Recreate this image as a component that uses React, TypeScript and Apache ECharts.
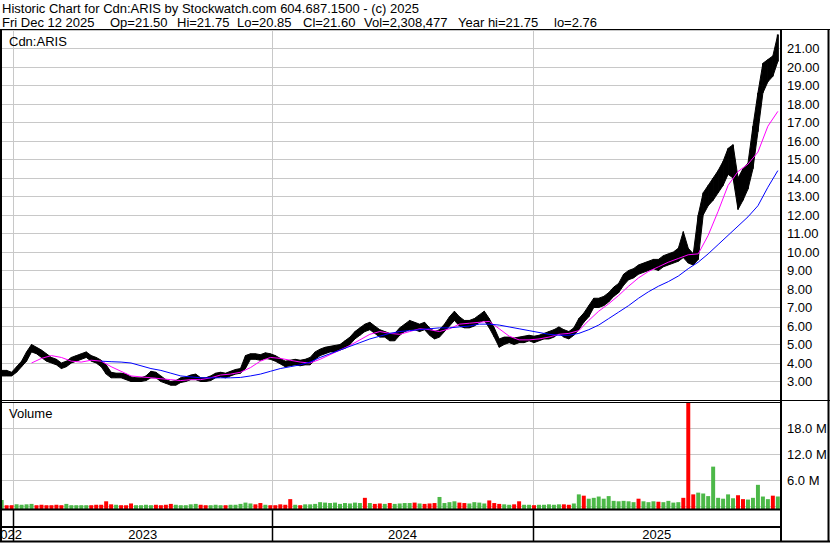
import React, { useEffect, useRef } from 'react';
import * as echarts from 'echarts';

// ---------- data (weekly, Fridays from 2022-12-16 to 2025-12-12) ----------
const FIRST_FRIDAY = Date.UTC(2022, 11, 16);
const DAY = 86400000;
const WEEK = 7 * DAY;

const priceLow = [
  3.3, 3.3, 3.3, 3.5, 3.8, 4.1, 4.6, 4.5, 4.3, 4.1,
  4.0, 3.9, 3.7, 3.8, 4.0, 4.1, 4.2, 4.3, 4.1, 4.0,
  3.8, 3.4, 3.2, 3.2, 3.2, 3.1, 3.0, 3.0, 3.0, 3.05,
  3.2, 3.2, 3.0, 2.9, 2.8, 2.8, 2.95, 3.0, 3.1, 3.1,
  3.0, 3.0, 3.05, 3.2, 3.25, 3.2, 3.3, 3.4, 3.45, 3.7,
  4.2, 4.2, 4.15, 4.25, 4.2, 4.1, 3.95, 3.8, 3.85, 3.9,
  3.85, 3.9, 3.9, 4.2, 4.4, 4.5, 4.6, 4.6, 4.7, 4.8,
  5.0, 5.3, 5.5, 5.7, 5.8, 5.6, 5.4, 5.4, 5.2, 5.2,
  5.5, 5.7, 5.8, 5.8, 5.7, 5.8, 5.5, 5.3, 5.4, 5.7,
  6.0, 6.3, 6.0, 5.9, 5.9, 6.0, 6.2, 6.3, 5.9, 5.4,
  4.85, 5.0, 5.1, 5.0, 5.1, 5.1, 5.2, 5.1, 5.2, 5.3,
  5.3, 5.4, 5.6, 5.4, 5.3, 5.5, 5.8, 6.2, 6.5, 7.0,
  7.0, 7.1, 7.3, 7.6, 7.8, 8.2, 8.5, 8.6, 8.8, 8.9,
  9.0, 9.1, 9.0, 9.2, 9.3, 9.4, 9.5, 9.7, 9.4, 9.3,
  9.6, 12.0, 12.5, 12.8, 13.2, 13.6, 14.2, 14.0, 12.3, 12.8,
  13.4, 14.5, 16.5, 18.6, 19.2, 19.5, 20.3,
];

const priceHigh = [
  3.6, 3.6, 3.5, 3.8, 4.1, 4.6, 5.0, 4.85, 4.7, 4.5,
  4.3, 4.2, 4.0, 4.1, 4.3, 4.4, 4.5, 4.6, 4.4, 4.3,
  4.15, 3.9, 3.5, 3.45, 3.45, 3.4, 3.25, 3.2, 3.2, 3.3,
  3.55, 3.5, 3.3, 3.1, 3.0, 3.05, 3.2, 3.25, 3.35, 3.4,
  3.2, 3.2, 3.3, 3.45, 3.5, 3.45, 3.55, 3.65, 3.7, 4.4,
  4.5, 4.5, 4.45, 4.55, 4.5, 4.4, 4.25, 4.1, 4.15, 4.2,
  4.15, 4.2, 4.3, 4.6, 4.75, 4.85, 4.9, 4.95, 5.0, 5.2,
  5.4, 5.7, 5.9, 6.1, 6.2, 6.0, 5.8, 5.7, 5.6, 5.6,
  5.9, 6.1, 6.3, 6.2, 6.1, 6.2, 5.9, 5.7, 5.8, 6.1,
  6.5, 6.8, 6.5, 6.3, 6.3, 6.4, 6.6, 6.8, 6.4, 5.9,
  5.3, 5.4, 5.4, 5.35, 5.4, 5.45, 5.5, 5.45, 5.5, 5.6,
  5.7, 5.8, 5.95, 5.8, 5.7, 5.9, 6.4, 6.7, 7.1, 7.5,
  7.5, 7.6, 7.8, 8.1, 8.3, 8.8, 9.0, 9.1, 9.3, 9.4,
  9.5, 9.6, 9.6, 9.8, 9.9, 10.0, 10.2, 11.1, 10.2, 9.9,
  12.0, 13.2, 13.6, 14.0, 14.4, 14.9, 15.6, 15.8, 14.0, 14.5,
  14.8, 16.8, 18.6, 20.2, 20.4, 20.6, 21.75,
];

// typical daily volume of each week, millions of shares
const volumeM = [
  1.5, 0.3, 0.3, 0.5, 0.4, 0.5, 0.6, 0.3, 0.4, 0.3,
  0.3, 0.4, 0.3, 0.6, 0.3, 0.3, 0.3, 0.3, 0.3, 0.4,
  0.4, 1.2, 0.5, 0.4, 0.3, 0.3, 0.7, 0.3, 0.3, 0.4,
  0.3, 0.4, 0.3, 0.4, 0.6, 0.4, 0.3, 0.3, 0.5, 0.6,
  0.4, 0.3, 0.3, 0.4, 0.3, 0.3, 0.4, 0.4, 0.6, 0.9,
  0.7, 0.5, 0.8, 0.4, 0.3, 0.3, 0.5, 0.4, 1.7, 0.4,
  0.3, 0.5, 0.5, 0.6, 1.0, 0.9, 0.8, 0.9, 0.6, 0.8,
  0.7, 0.9, 0.8, 2.0, 0.8, 0.6, 0.7, 0.6, 0.8, 0.6,
  0.7, 0.8, 0.8, 0.9, 0.7, 0.6, 0.7, 0.8, 2.2, 0.8,
  1.0, 1.2, 0.9, 0.8, 0.7, 1.0, 0.9, 0.7, 1.4, 0.8,
  0.6, 0.5, 0.4, 0.5, 1.2, 0.4, 0.4, 0.3, 0.4, 0.4,
  0.5, 0.4, 0.5, 0.5, 0.4, 0.7, 2.8, 2.5, 1.8, 2.0,
  2.3, 1.8, 2.4, 1.3, 1.2, 1.3, 1.2, 1.0, 1.8, 1.2,
  1.0, 1.2, 1.1, 1.0, 1.3, 0.9, 1.0, 2.0, 24.5, 2.8,
  3.2, 3.0, 2.4, 9.2, 2.0, 1.8, 2.8, 1.9, 2.6, 1.7,
  1.6, 2.0, 5.0, 2.3, 1.7, 2.5, 2.31,
];

// g = up, r = down
const volumeDirection =
  'grrggggrrr' + 'rrrgggggrr' + 'rrrgrrrggg' + 'grrrrggggg' + 'rrgggrgggg' +
  'grrgrrrrrg' + 'rggggggggg' + 'gggrgrrgrg' + 'gggrgrrrgg' + 'ggrrggggrr' +
  'rggrrggrgg' + 'gggrrggrgg' + 'ggggggggrg' + 'ggrggggrrr' + 'ggggggggrr' +
  'gggggrg';

// moving averages, read every second week
const MA_FAST_FIRST_WEEK = 6;
const maFast = [
  4.0, 4.25, 4.4, 4.3, 4.1, 4.05, 4.15, 4.1, 3.8, 3.55,
  3.3, 3.25, 3.2, 3.15, 3.1, 3.05, 3.1, 3.1, 3.2, 3.35,
  3.4, 3.5, 3.75, 4.1, 4.3, 4.25, 4.15, 4.05, 4.0, 4.2,
  4.45, 4.7, 4.95, 5.25, 5.55, 5.7, 5.6, 5.55, 5.7, 5.85,
  5.8, 5.7, 5.85, 6.1, 6.15, 6.2, 6.25, 5.85, 5.45, 5.25,
  5.25, 5.3, 5.4, 5.55, 5.6, 5.75, 6.3, 6.8, 7.2, 7.65,
  8.15, 8.6, 8.95, 9.2, 9.45, 9.65, 9.85, 9.9, 10.9, 12.2,
  13.6, 14.35, 14.75, 15.4, 16.8, 17.6,
];
const MA_SLOW_FIRST_WEEK = 20;
const maSlow = [
  4.1, 4.07, 4.05, 4.0, 3.85, 3.7, 3.6, 3.45, 3.3, 3.25,
  3.2, 3.2, 3.2, 3.2, 3.22, 3.3, 3.4, 3.55, 3.7, 3.8,
  3.9, 4.05, 4.3, 4.5, 4.7, 4.9, 5.1, 5.3, 5.45, 5.6,
  5.7, 5.75, 5.8, 5.85, 5.9, 5.9, 5.95, 6.0, 6.1, 6.1,
  6.05, 5.95, 5.85, 5.75, 5.65, 5.55, 5.5, 5.5, 5.6, 5.8,
  6.05, 6.4, 6.75, 7.1, 7.5, 7.85, 8.15, 8.4, 8.7, 9.1,
  9.45, 9.9, 10.4, 10.9, 11.4, 11.9, 12.5, 13.5, 14.4,
];

const yearLabels = ['2022', '2023', '2024', '2025'];
const yearStartYears = [2023, 2024, 2025];

const titleText = 'Historic Chart for Cdn:ARIS by Stockwatch.com 604.687.1500 - (c) 2025';
const quoteFields = ['Fri Dec 12 2025', 'Op=21.50', 'Hi=21.75', 'Lo=20.85', 'Cl=21.60', 'Vol=2,308,477', 'Year hi=21.75', 'lo=2.76'];
const symbolName = 'Cdn:ARIS';
const volumeName = 'Volume';

// ---------- layout / style ----------
const FONT = '"Liberation Sans", Arial, Helvetica, sans-serif';
const AXIS_START = Date.UTC(2022, 11, 16, 11);
const AXIS_END = Date.UTC(2025, 11, 16, 11);
const quoteFieldX = [2, 110, 177, 237, 303, 364, 458, 554];
const GRID_LEFT = 2;
const GRID_RIGHT = 49;
const GREEN = '#4cb848';
const RED = '#ff0000';
const GRID_GRAY = '#c8c8c8';

export default function App() {
  const ref = useRef<HTMLDivElement>(null);

  useEffect(() => {
    document.body.style.margin = '0';
    const chart = echarts.init(ref.current as HTMLDivElement, null, { renderer: 'svg' });

    const n = priceHigh.length;
    const weekDates = priceHigh.map((_, i) => FIRST_FRIDAY + i * WEEK);
    const priceData = weekDates.map((t, i) => [t, priceLow[i], priceHigh[i]]);
    const volumeData = weekDates.map((t, i) => [t, volumeM[i] * 1e6, volumeDirection[i] === 'r' ? 1 : 0]);
    const fastData = maFast.map((v, k) => [FIRST_FRIDAY + (MA_FAST_FIRST_WEEK + 2 * k) * WEEK, v]);
    const slowData = maSlow.map((v, k) => [FIRST_FRIDAY + (MA_SLOW_FIRST_WEEK + 2 * k) * WEEK, v]);
    const yearBounds = yearStartYears.map((y) => Date.UTC(y, 0, 1));
    const edges = [AXIS_START, ...yearBounds, AXIS_END];
    const yearMid = yearLabels.map((_, i) => [(edges[i] + edges[i + 1]) / 2, 0.5]);

    const gridLineSeries = (gi: number, color: string) => ({
      type: 'custom',
      xAxisIndex: gi,
      yAxisIndex: gi,
      silent: true,
      z: 1,
      clip: false,
      encode: { x: 0, y: 1 },
      data: yearBounds.map((t) => [t, 0]),
      renderItem: (params: any, api: any) => {
        const cs = params.coordSys;
        const x = Math.round(api.coord([api.value(0), 0])[0]) + 0.5;
        return {
          type: 'line',
          shape: { x1: x, y1: cs.y, x2: x, y2: cs.y + cs.height },
          style: { stroke: color, lineWidth: 1 },
        };
      },
    });

    const hLine = (x1: number, y: number, x2: number, w: number) => ({
      type: 'line',
      shape: { x1, y1: y, x2, y2: y },
      style: { stroke: '#000', lineWidth: w },
      z: 100,
    });
    const vLine = (x: number, y1: number, y2: number, w: number) => ({
      type: 'line',
      shape: { x1: x, y1, x2: x, y2 },
      style: { stroke: '#000', lineWidth: w },
      z: 100,
    });
    const txt = (text: string, x: number, y: number, size: number) => ({
      type: 'text',
      x,
      y,
      z: 101,
      style: { text, fill: '#000', fontSize: size, fontFamily: FONT, align: 'left', verticalAlign: 'middle' },
    });

    const timeAxis = (gi: number) => ({
      type: 'time',
      gridIndex: gi,
      min: AXIS_START,
      max: AXIS_END,
      show: false,
    });

    chart.setOption({
      animation: false,
      backgroundColor: '#fff',
      grid: [
        { left: GRID_LEFT, right: GRID_RIGHT, top: 30, height: 370 },
        { left: GRID_LEFT, right: GRID_RIGHT, top: 402.5, height: 104 },
        { left: GRID_LEFT, right: GRID_RIGHT, top: 510, height: 31 },
      ],
      xAxis: [timeAxis(0), timeAxis(1), timeAxis(2)],
      yAxis: [
        {
          type: 'value',
          gridIndex: 0,
          position: 'right',
          min: 2,
          max: 22,
          interval: 1,
          axisLine: { show: false },
          axisTick: { show: false },
          splitLine: { show: true, lineStyle: { color: GRID_GRAY, width: 1 } },
          axisLabel: {
            margin: 6,
            color: '#000',
            fontSize: 13,
            fontFamily: FONT,
            formatter: (v: number) => (v <= 2 || v >= 22 ? '' : v.toFixed(2)),
          },
        },
        {
          type: 'value',
          gridIndex: 1,
          position: 'right',
          min: 0,
          max: 24e6,
          interval: 6e6,
          axisLine: { show: false },
          axisTick: { show: false },
          splitLine: { show: true, lineStyle: { color: GRID_GRAY, width: 1 } },
          axisLabel: {
            margin: 6,
            color: '#000',
            fontSize: 13,
            fontFamily: FONT,
            formatter: (v: number) => (v <= 0 || v >= 24e6 ? '' : (v / 1e6).toFixed(1) + ' M'),
          },
        },
        { type: 'value', gridIndex: 2, min: 0, max: 1, show: false },
      ],
      series: [
        gridLineSeries(0, GRID_GRAY),
        gridLineSeries(1, GRID_GRAY),
        {
          type: 'custom',
          name: 'Price',
          xAxisIndex: 0,
          yAxisIndex: 0,
          z: 2,
          clip: true,
          encode: { x: 0, y: [1, 2] },
          data: priceData,
          renderItem: (params: any, api: any) => {
            const i = params.dataIndex;
            const j = Math.min(i + 1, n - 1);
            const a = api.coord([weekDates[i], priceHigh[i]]);
            const d = api.coord([weekDates[i], priceLow[i]]);
            if (j === i) {
              return {
                type: 'rect',
                shape: { x: a[0] - 1, y: a[1], width: 2, height: d[1] - a[1] },
                style: { fill: '#000' },
              };
            }
            const b = api.coord([weekDates[j], priceHigh[j]]);
            const c = api.coord([weekDates[j], priceLow[j]]);
            return {
              type: 'polygon',
              shape: { points: [a, b, c, d] },
              style: { fill: '#000', stroke: '#000', lineWidth: 1 },
            };
          },
        },
        {
          type: 'line',
          name: 'MA fast',
          xAxisIndex: 0,
          yAxisIndex: 0,
          z: 3,
          data: fastData,
          showSymbol: false,
          symbol: 'none',
          lineStyle: { color: '#ff00ff', width: 1 },
          itemStyle: { color: '#ff00ff' },
        },
        {
          type: 'line',
          name: 'MA slow',
          xAxisIndex: 0,
          yAxisIndex: 0,
          z: 3,
          data: slowData,
          showSymbol: false,
          symbol: 'none',
          lineStyle: { color: '#0000ff', width: 1 },
          itemStyle: { color: '#0000ff' },
        },
        {
          type: 'custom',
          name: 'Volume',
          xAxisIndex: 1,
          yAxisIndex: 1,
          z: 2,
          clip: false,
          encode: { x: 0, y: 1 },
          data: volumeData,
          renderItem: (params: any, api: any) => {
            const cs = params.coordSys;
            const t = api.value(0);
            const top = api.coord([t, api.value(1)]);
            const w = api.size([WEEK, 0])[0];
            const bottom = cs.y + cs.height + 2.5;
            const y = Math.max(top[1], cs.y + 0.5);
            return {
              type: 'rect',
              shape: { x: top[0] - w / 2 + 0.5, y, width: w - 1, height: bottom - y },
              style: { fill: api.value(2) ? RED : GREEN },
            };
          },
        },
        {
          type: 'custom',
          xAxisIndex: 2,
          yAxisIndex: 2,
          silent: true,
          clip: false,
          encode: { x: 0, y: 1 },
          data: yearBounds.map((t) => [t, 0]),
          renderItem: (params: any, api: any) => {
            const cs = params.coordSys;
            const x = Math.round(api.coord([api.value(0), 0])[0]) + 0.5;
            return {
              type: 'line',
              shape: { x1: x, y1: cs.y, x2: x, y2: cs.y + cs.height },
              style: { stroke: '#000', lineWidth: 1.5 },
            };
          },
        },
        {
          type: 'custom',
          xAxisIndex: 2,
          yAxisIndex: 2,
          silent: true,
          clip: false,
          encode: { x: 0, y: 1 },
          data: yearMid,
          renderItem: (params: any, api: any) => {
            const cs = params.coordSys;
            const x = api.coord([api.value(0), 0])[0];
            return {
              type: 'text',
              x,
              y: cs.y + 24,
              style: {
                text: yearLabels[params.dataIndex],
                fill: '#000',
                fontSize: 13,
                fontFamily: FONT,
                align: 'center',
                verticalAlign: 'middle',
              },
            };
          },
        },
      ],
      graphic: [
        txt(titleText, 2, 8, 13),
        ...quoteFields.map((f, i) => txt(f, quoteFieldX[i], 22, 13)),
        txt(symbolName, 9, 41, 13),
        txt(volumeName, 9, 413, 13),
        hLine(0, 29.5, 830, 1),
        vLine(1, 29, 542, 2),
        vLine(828.5, 29, 542, 2),
        vLine(781, 29, 542, 2),
        hLine(0, 400.5, 781, 1),
        hLine(0, 402.5, 781, 1),
        hLine(781, 400.5, 830, 1),
        hLine(0, 509.5, 781, 2),
        hLine(0, 527, 781, 2),
        hLine(0, 541.5, 830, 2),
      ],
    });

    return () => chart.dispose();
  }, []);

  return <div ref={ref} style={{ width: 830, height: 543 }} />;
}
